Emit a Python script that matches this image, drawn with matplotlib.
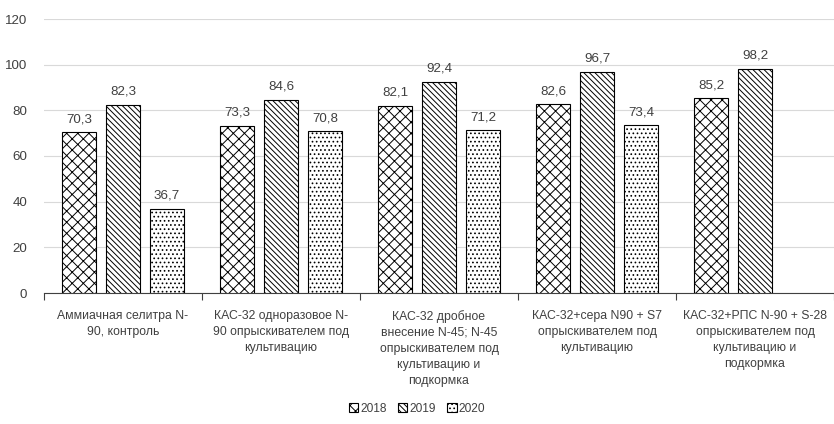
import matplotlib
matplotlib.use("Agg")
import matplotlib.pyplot as plt
import numpy as np

categories = [
    "Аммиачная селитра N-\n90, контроль",
    "КАС-32 одноразовое N-\n90 опрыскивателем под\nкультивацию",
    "КАС-32 дробное\nвнесение N-45; N-45\nопрыскивателем под\nкультивацию и\nподкормка",
    "КАС-32+сера N90 + S7\nопрыскивателем под\nкультивацию",
    "КАС-32+РПС N-90 + S-28\nопрыскивателем под\nкультивацию и\nподкормка",
]
series_names = ["2018", "2019", "2020"]
v2018 = [70.3, 73.3, 82.1, 82.6, 85.2]
v2019 = [82.3, 84.6, 92.4, 96.7, 98.2]
v2020 = [36.7, 70.8, 71.2, 73.4, None]
yticks = [0, 20, 40, 60, 80, 100, 120]

plt.rcParams['font.family'] = ['Liberation Sans Narrow', 'Liberation Sans', 'DejaVu Sans']
plt.rcParams['hatch.linewidth'] = 0.7

fig = plt.figure(figsize=(8.34, 4.24), dpi=100)
ax = fig.add_axes([44/834, 131/424, 790/834, 274/424])

x = np.arange(len(categories))
bw = 0.22
offs = [-0.278, 0, 0.278]
hatches = ['xxx', '\\\\\\\\\\\\', '....']
txtcol = '#404040'
numfs = 9.6
catfs = 8.8
for vals, off, h, name in zip([v2018, v2019, v2020], offs, hatches, series_names):
    xs = [xi + off for xi, v in zip(x, vals) if v is not None]
    vs = [v for v in vals if v is not None]
    bars = ax.bar(xs, vs, width=bw, facecolor='white', edgecolor='black',
                  hatch=h, linewidth=0.8, label=name, zorder=3)
    for b, v in zip(bars, vs):
        ax.text(b.get_x() + b.get_width()/2, v + 3.2, f"{v:.1f}".replace('.', ','),
                ha='center', va='bottom', fontsize=numfs, color=txtcol)

ax.set_xlim(-0.5, len(categories) - 0.5)
ax.set_ylim(0, 120)
ax.set_yticks(yticks)
ax.set_yticklabels([str(t) for t in yticks], fontsize=numfs, color=txtcol)
ax.tick_params(axis='y', length=0, pad=12)
ax.grid(axis='y', color='#d9d9d9', linewidth=0.8, zorder=0)
for s in ['left', 'right', 'top']:
    ax.spines[s].set_visible(False)
ax.spines['bottom'].set_color('#404040')
ax.set_xticks(np.arange(-0.5, len(categories), 1.0), minor=False)
ax.set_xticklabels([''] * (len(categories) + 1))
ax.tick_params(axis='x', length=5, color='#404040', direction='out')
ax.set_xticks(x, minor=True)
ax.set_xticklabels(categories, minor=True, fontsize=catfs, color=txtcol, linespacing=1.45)
ax.tick_params(axis='x', which='minor', length=0, pad=12)
for lab in ax.get_xticklabels(minor=True):
    lab.set_verticalalignment('top')
    lab.set_horizontalalignment('center')

leg = fig.legend(loc='lower center', bbox_to_anchor=(0.5, -0.003), ncol=3, frameon=False,
                 fontsize=8.6, handlelength=0.8, handleheight=0.8, handletextpad=0.2,
                 columnspacing=0.9)
for t in leg.get_texts():
    t.set_color(txtcol)

fig.savefig("out.png", dpi=100)
